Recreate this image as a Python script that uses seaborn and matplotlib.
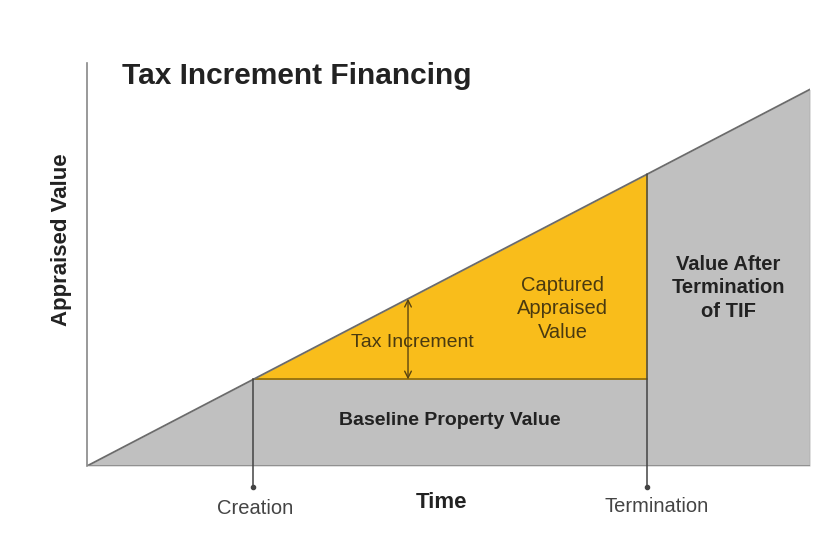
import numpy as np
import matplotlib.pyplot as plt
import seaborn as sns
sns.set_theme(style="white")
plt.rcParams['font.family'] = ['Liberation Sans', 'DejaVu Sans']

# Diagram data: time and appraised value (value grows linearly with time)
time_pts = [0, 23, 77.5, 100]
value_pts = [0, 23, 77.5, 100]
creation_t = 23
termination_t = 77.5
increment_t = 44.4
baseline_value = 23

gray = '#c0c0c0'
yellow = '#f9bd1b'
edge = '#6b6b6b'

fig = plt.figure(figsize=(8.25, 5.5), dpi=100)
ax = fig.add_axes([87/825, 84/550, 723/825, 403/550])

t = np.array(time_pts)
v = np.array(value_pts)

# gray area under the line
ax.fill_between(t, 0, v, color=gray, lw=0)
# yellow captured increment between creation and termination
seg = (t >= creation_t) & (t <= termination_t)
ax.fill_between(t[seg], baseline_value, v[seg], color=yellow, lw=0)
ax.plot([creation_t, termination_t], [baseline_value, baseline_value], color='#8a6a10', lw=1.2)
sns.lineplot(x=time_pts, y=value_pts, color=edge, lw=1.3, ax=ax)
ax.plot([100, 100], [0, 100], color='#9a9a9a', lw=1)
ax.plot([0, 100], [0, 0], color='#888888', lw=1.2)

# creation / termination markers
for tt, top in [(creation_t, baseline_value), (termination_t, termination_t)]:
    ax.plot([tt, tt], [-5.6, top], color='#444444', lw=1.1, clip_on=False)
    ax.plot([tt], [-5.6], 'o', color='#444444', ms=3, clip_on=False)

# tax increment arrow
ax.annotate('', xy=(increment_t, increment_t), xytext=(increment_t, baseline_value),
            arrowprops=dict(arrowstyle='<->', color='#5a4410', lw=1, shrinkA=0, shrinkB=0))

ax.set_xlim(0, 100)
ax.set_ylim(0, 107)
ax.set_xticks([])
ax.set_yticks([])
for s in ['top', 'right', 'bottom']:
    ax.spines[s].set_visible(False)
ax.spines['left'].set_color('#888888')
ax.spines['left'].set_linewidth(1.2)

ax.text(4.8, 103.5, 'Tax Increment Financing', fontsize=21.5, fontweight='bold',
        color='#222222', ha='left', va='center')
ax.text(-3.5, 60, 'Appraised Value', fontsize=16, fontweight='bold', color='#222222',
        rotation=90, ha='center', va='center', clip_on=False)
ax.text(49, -9.8, 'Time', fontsize=16, fontweight='bold', color='#222222',
        ha='center', va='center', clip_on=False)
ax.text(23.2, -11.2, 'Creation', fontsize=14.5, color='#444444', ha='center', va='center')
ax.text(78.8, -10.8, 'Termination', fontsize=14.5, color='#444444', ha='center', va='center')
ax.text(45, 32.7, 'Tax Increment', fontsize=14, color='#4a3a10', ha='center', va='center')
ax.text(65.8, 41.8, 'Captured\nAppraised\nValue', fontsize=14.5, color='#4a3a10',
        ha='center', va='center', linespacing=1.3)
ax.text(50.2, 12.2, 'Baseline Property Value', fontsize=14, fontweight='bold',
        color='#222222', ha='center', va='center')
ax.text(88.7, 47.3, 'Value After\nTermination\nof TIF', fontsize=14.5, fontweight='bold',
        color='#222222', ha='center', va='center', linespacing=1.3)

plt.savefig('out.png', dpi=100, facecolor='white')
